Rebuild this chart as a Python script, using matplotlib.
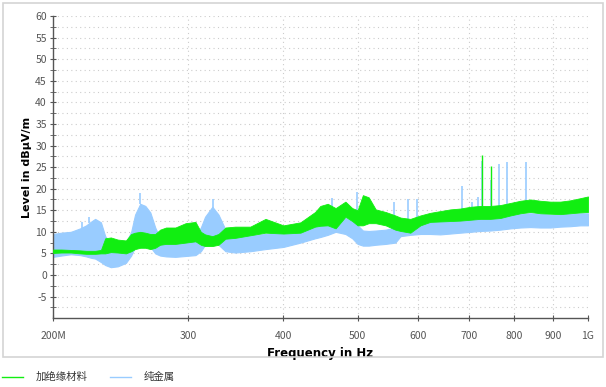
import numpy as np
import matplotlib.pyplot as plt
from matplotlib.lines import Line2D
from matplotlib.patches import Rectangle
from matplotlib.ticker import FixedLocator, NullFormatter, NullLocator

plt.rcParams['font.family'] = ['Noto Sans CJK SC', 'DejaVu Sans']
plt.rcParams['axes.unicode_minus'] = False

# --- data (frequency in MHz, level in dBuV/m) ---
freq = [200, 205, 211, 217, 221, 224, 227, 231, 234, 238, 243, 249, 253, 256,
        260, 264, 268, 272, 276, 281, 289, 298, 307, 312, 316, 323, 329, 336,
        346, 362, 379, 400, 421, 440, 447, 457, 468, 482, 492, 500, 508, 517,
        528, 544, 560, 569, 586, 604, 622, 641, 661, 681, 702, 723, 745, 768,
        792, 816, 841, 866, 893, 920, 948, 977, 1000]

# 纯金属 (pure metal) - upper / lower envelope of the noisy trace
metal_hi = [9.5, 9.8, 10, 10.8, 11.5, 12.3, 13, 12.2, 9, 7.2, 6.5, 7.5, 10, 14,
            16.5, 16, 14.5, 11, 8.5, 7.8, 7.6, 8, 9, 11, 13.5, 15.8, 14, 10.5,
            9.2, 9.2, 9.5, 10, 10.8, 11.8, 12, 12.5, 13.6, 13.2, 12.5, 11.5,
            10.3, 10.2, 10.3, 10.5, 11, 12.5, 12.8, 12.6, 12.5, 12.5, 12.6,
            12.8, 13.2, 13.2, 13.3, 13.5, 14, 14.2, 14.3, 14.2, 14.0, 14.0,
            14.2, 14.3, 14.3]
metal_lo = [4.2, 4.5, 4.8, 4.6, 4.3, 4.0, 3.8, 3.0, 2.3, 1.8, 2.0, 2.8, 4.5,
            6.5, 8, 8, 6.5, 5, 4.5, 4.3, 4.2, 4.4, 4.6, 5.5, 7, 8, 7, 5.5, 5.2,
            5.5, 6, 6.5, 7.5, 8.5, 8.8, 9.3, 10, 9.5, 8.5, 7.2, 6.8, 6.8, 7,
            7.2, 7.5, 9, 9.3, 9.5, 9.5, 9.4, 9.6, 9.8, 10, 10.2, 10.3, 10.5,
            10.8, 11, 11.1, 11, 11, 11.2, 11.3, 11.5, 11.5]

# 加绝缘材料 (with insulating material)
insul_hi = [5.9, 5.9, 5.8, 5.7, 5.6, 5.6, 5.6, 5.8, 8.5, 8.7, 8.2, 8.0, 9.5, 9.8,
            10, 9.8, 9.5, 9.5, 10.5, 11, 11, 12, 12.3, 10, 9.4, 9, 9.5, 11,
            11.2, 11.2, 13, 11.5, 12.2, 14.6, 16, 16.5, 15.5, 17, 15.5, 15.0,
            18.5, 18, 15.2, 14.6, 13.8, 13.3, 13, 13.8, 14.4, 14.8, 15.2, 15.4,
            15.8, 16.0, 16.0, 16.2, 16.7, 17.2, 17.5, 17.2, 17.0, 17.0, 17.3,
            17.8, 18.2]
insul_lo = [5.1, 5.2, 5.2, 5.0, 4.9, 4.9, 4.9, 5.0, 5.0, 5.3, 5.2, 5.0, 5.5,
            6.0, 6.3, 6.3, 6.0, 6.3, 7, 7.2, 7.2, 7.5, 7.8, 7, 6.7, 6.7, 7,
            8.4, 8.6, 9.2, 9.8, 9.6, 9.8, 11.2, 11.4, 11.5, 10.8, 13.5, 12.5,
            11.5, 11.5, 12, 12, 11.5, 10.5, 10.2, 9.8, 11.5, 12.3, 12.4, 12.5,
            12.6, 12.8, 13, 13, 13.2, 13.8, 14.3, 14.6, 14.3, 14.2, 14.1, 14.3,
            14.5, 14.6]

# narrow spikes (frequency, peak level)
metal_spike_f = [218, 223, 260, 324, 463, 499, 558, 581, 598, 685, 706, 719,
                 726, 747, 765, 784, 829]
metal_spike_v = [12.3, 13.5, 19, 17.5, 17.8, 19.3, 17, 17.5, 17.5, 20.6, 17,
                 18, 26.5, 22, 25.7, 26.1, 26.2]
insul_spike_f = [726, 747]
insul_spike_v = [27.9, 25.3]

xticks = [200, 300, 400, 500, 600, 700, 800, 900, 1000]
xticklabels = ['200M', '300', '400', '500', '600', '700', '800', '900', '1G']
yticks = list(range(-5, 61, 5))

green = '#11ee11'
blue = '#99ccff'

fig = plt.figure(figsize=(6.06, 3.87), dpi=100)
fig.patches.append(Rectangle((3 / 606, 1 - 357 / 387), 600 / 606, 354 / 387,
                             transform=fig.transFigure, fill=False,
                             edgecolor='#d4d4d4', linewidth=1.2))
ax = fig.add_axes([0.0875, 0.178, 0.8828, 0.7804])

# pure metal trace
ax.fill_between(freq, metal_lo, metal_hi, color=blue, linewidth=0.8,
                edgecolor=blue, zorder=2)
ax.vlines(metal_spike_f, np.interp(metal_spike_f, freq, metal_hi),
          metal_spike_v, color=blue, linewidth=1.2, zorder=2)
# insulation trace on top
ax.fill_between(freq, insul_lo, insul_hi, color=green, linewidth=0.6,
                edgecolor=green, zorder=3)
ax.vlines(insul_spike_f, np.interp(insul_spike_f, freq, insul_hi),
          insul_spike_v, color=green, linewidth=1.0, zorder=3)

ax.set_xscale('log')
ax.set_xlim(200, 1000)
ax.set_ylim(-10, 60)
ax.xaxis.set_major_locator(FixedLocator(xticks))
ax.set_xticklabels(xticklabels)
ax.xaxis.set_minor_locator(NullLocator())
ax.xaxis.set_minor_formatter(NullFormatter())
ax.set_yticks(yticks)
ax.set_yticks(np.arange(-7.5, 60, 5), minor=True)

ax.grid(True, which='both', axis='y', color='#cccccc', linestyle=(0, (1, 3)),
        linewidth=0.8)
ax.grid(True, which='major', axis='x', color='#cccccc', linestyle=(0, (1, 3)),
        linewidth=0.8)
ax.set_axisbelow(True)

for s in ['top', 'right']:
    ax.spines[s].set_visible(False)
for s in ['left', 'bottom']:
    ax.spines[s].set_color('#555555')
    ax.spines[s].set_linewidth(1.0)

ax.tick_params(axis='both', which='both', direction='inout', color='#555555',
               labelcolor='#555555', labelsize=7.5)
ax.tick_params(axis='y', which='major', length=5, pad=2)
ax.tick_params(axis='y', which='minor', length=4)
ax.tick_params(axis='x', which='major', length=5, pad=7)

ax.set_ylabel('Level in dBμV/m', fontsize=8, fontweight='bold',
              family='DejaVu Sans', labelpad=2)
ax.set_xlabel('Frequency in Hz', fontsize=8.5, fontweight='bold',
              family='DejaVu Sans', labelpad=4)

handles = [Line2D([], [], color=green, linewidth=1.0),
           Line2D([], [], color=blue, linewidth=1.0)]
fig.legend(handles, ['加绝缘材料', '纯金属'], loc='lower left',
           bbox_to_anchor=(-0.012, -0.012), ncol=2, frameon=False,
           fontsize=7.5, handlelength=2.0, handletextpad=1.2,
           columnspacing=2.2, labelcolor='#333333')

fig.savefig('out.png', dpi=100)
